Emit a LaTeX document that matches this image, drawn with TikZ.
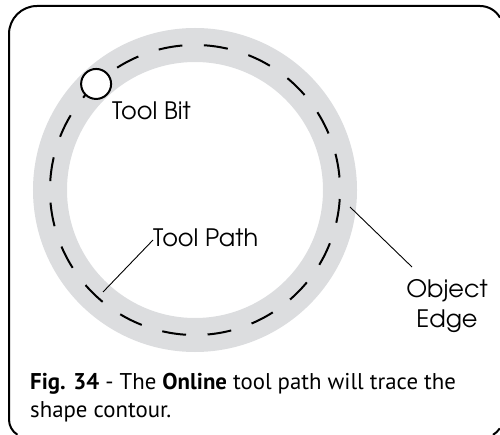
\documentclass[tikz,border=0pt]{standalone}
\usepackage{fontspec}
\newfontfamily\labelfont{TeX Gyre Adventor}
\newfontfamily\capfont{PT Sans}
\definecolor{ringgray}{RGB}{220,221,223}
\tikzset{
  frame/.style={line width=2pt, black},
  ring/.style={line width=34pt, ringgray},
  toolpath/.style={line width=2pt, black, dash pattern=on 24pt off 21.55pt},
  bit/.style={circle, draw=black, fill=white, line width=2pt, minimum size=30pt, inner sep=0pt},
  lbl/.style={font=\labelfont\fontsize{24}{28}\selectfont, inner sep=0pt},
  leader/.style={line width=0.9pt, black},
  captxt/.style={font=\capfont\fontsize{22.8}{28}\selectfont, inner sep=0pt, align=left}
}
\begin{document}
\begin{tikzpicture}[x=1pt,y=1pt]
\useasboundingbox (0,0) rectangle (500,-435);
% frame (only the part that lies on the page)
\draw[frame] (480,-29) ++(29.6:23) arc[start angle=29.6, end angle=90, radius=23]
  -- (37,-6) arc[start angle=90, end angle=180, radius=28]
  -- (9,-419.5) arc[start angle=180, end angle=238, radius=18];
\draw[frame] (483,-417.5) ++(-33:20) arc[start angle=-33, end angle=-60, radius=20];
% ring
\coordinate (c) at (195,-190);
\draw[ring] (c) circle[radius=145];
\draw[toolpath] ([shift={(77:145)}]c) arc[start angle=77, end angle=437, radius=145];
% tool bit
\node[bit] (bit) at ([shift={(133:145)}]c) {};
\node[lbl, anchor=base west] (bitlbl) at (112,-120) {Tool Bit};
% tool path label
\node[lbl, anchor=base west] (pathlbl) at (153,-247) {Tool Path};
\coordinate (pathpt) at (103,-292);
\draw[leader] (pathpt) -- (pathlbl.west |- 0,-240) ;
% object edge
\node[lbl, anchor=base] (objlbl) at (447,-298) {Object};
\node[lbl, anchor=base] (edgelbl) at (447,-327) {Edge};
\coordinate (edgept) at (350,-207);
\coordinate (edgeend) at (412,-267);
\draw[leader] (edgept) -- (edgeend);
% caption
\node[captxt, anchor=base west] (cap) at (30,-417) {\textbf{Fig. 34} - The \textbf{Online} tool path will trace the\\shape contour.};
\end{tikzpicture}
\end{document}
